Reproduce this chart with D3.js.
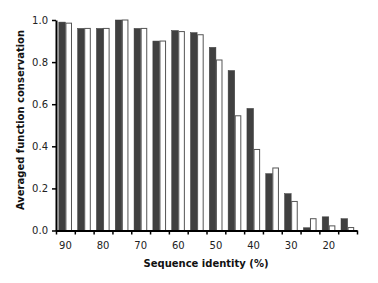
<!DOCTYPE html>
<html><head><meta charset="utf-8">
<script src="https://cdn.jsdelivr.net/npm/d3@7"></script>
<style>body{margin:0;background:#fff;} svg{display:block;}</style>
</head><body>
<svg id="c" width="378" height="283"></svg>
<script>
const categories = ["90","85","80","75","70","65","60","55","50","45","40","35","30","25","20","15"];
const seriesDark  = [0.99,0.96,0.96,1.00,0.96,0.90,0.95,0.94,0.87,0.76,0.58,0.27,0.175,0.013,0.065,0.056];
const seriesWhite = [0.985,0.96,0.96,1.00,0.96,0.90,0.945,0.93,0.81,0.545,0.385,0.297,0.138,0.056,0.022,0.014];
const xTickLabels = ["90","80","70","60","50","40","30","20"];
const yTicks = [0,0.2,0.4,0.6,0.8,1.0];

(function(){
const svg = d3.select("#c");
const mLeft = 56, mRight = 357, mTop = 20, mBottom = 230.5;
const x0 = d3.scaleBand().domain(categories).range([mLeft, mRight]).paddingInner(0.3).paddingOuter(0.15);
const x1 = d3.scaleBand().domain(["dark","white"]).range([0, x0.bandwidth()]);
const y = d3.scaleLinear().domain([0,1]).range([mBottom, mTop]);
const xb = d3.scaleLinear().domain([0, categories.length]).range([mLeft, mRight]);

const font = "'DejaVu Sans', Verdana, sans-serif";

const g = svg.append("g");
categories.forEach((c,i) => {
  g.append("rect").attr("x", x0(c)+x1("dark")).attr("width", x1.bandwidth())
    .attr("y", y(seriesDark[i])).attr("height", mBottom - y(seriesDark[i]))
    .attr("fill", "#404040").attr("stroke", "#3a3a3a").attr("stroke-width", 0.5);
  g.append("rect").attr("x", x0(c)+x1("white")+0.5).attr("width", x1.bandwidth()-1)
    .attr("y", y(seriesWhite[i])).attr("height", mBottom - y(seriesWhite[i]))
    .attr("fill", "#fff").attr("stroke", "#555").attr("stroke-width", 1);
});

const xTickAxis = svg.append("g").attr("transform", `translate(0,${mBottom})`)
  .call(d3.axisBottom(xb).tickValues(d3.range(0, categories.length+1)).tickFormat("").tickSize(4).tickSizeOuter(0));
xTickAxis.select(".domain").attr("stroke", "#000").attr("stroke-width", 2);
xTickAxis.selectAll(".tick line").attr("stroke", "#000").attr("stroke-width", 1.5);

const xLab = svg.append("g").attr("transform", `translate(0,${mBottom})`)
  .call(d3.axisBottom(x0).tickValues(xTickLabels).tickSize(0).tickPadding(11));
xLab.select(".domain").remove();
xLab.selectAll("text").attr("font-family", font).attr("font-size", 10).attr("fill", "#222");

const yAx = svg.append("g").attr("transform", `translate(${mLeft},0)`)
  .call(d3.axisLeft(y).tickValues(yTicks).tickFormat(d3.format(".1f")).tickSize(4).tickSizeOuter(0).tickPadding(4));
yAx.select(".domain").attr("stroke", "#000").attr("stroke-width", 2);
yAx.selectAll(".tick line").attr("stroke", "#000").attr("stroke-width", 1.5);
yAx.selectAll("text").attr("font-family", font).attr("font-size", 10).attr("fill", "#222");

svg.append("text").attr("x", 206).attr("y", 267).attr("text-anchor", "middle")
  .attr("font-family", font).attr("font-size", 10).attr("font-weight", "bold").attr("fill", "#111")
  .text("Sequence identity (%)");
svg.append("text").attr("transform", "translate(24,120) rotate(-90)").attr("text-anchor", "middle")
  .attr("font-family", font).attr("font-size", 10).attr("font-weight", "bold").attr("fill", "#111")
  .text("Averaged function conservation");
})();
</script>
</body></html>
